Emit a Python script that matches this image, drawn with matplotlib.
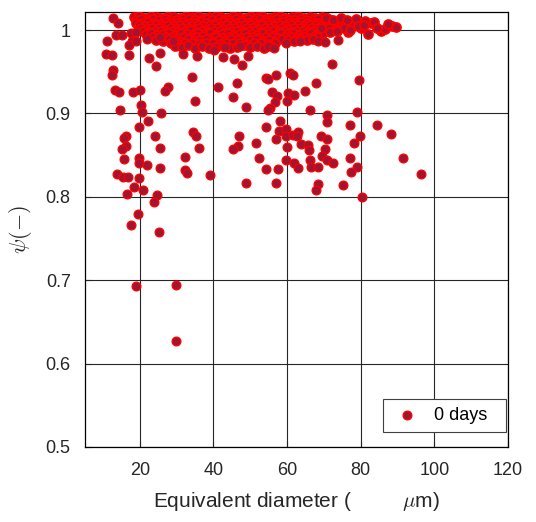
import matplotlib
matplotlib.use("Agg")
import matplotlib.pyplot as plt
import numpy as np

plt.rcParams['font.family'] = ['Liberation Sans', 'DejaVu Sans']
plt.rcParams['mathtext.fontset'] = 'cm'

# dense band near psi = 1, read row by row
band_a_x = [18.3, 19.8, 21.4, 23.0, 24.6, 26.1, 27.8, 29.4, 30.9, 32.6, 34.2, 35.7, 37.4, 38.9, 40.6, 42.1, 43.8,
            45.3, 47.0, 48.5, 50.1, 51.8, 53.3, 55.0, 56.5, 58.2, 59.7, 61.4, 62.9, 64.6, 66.1, 67.7, 69.4, 70.9]
band_a_y = [1.016, 1.017, 1.015, 1.017, 1.016, 1.014, 1.017, 1.016, 1.015, 1.017, 1.016, 1.017, 1.015, 1.016, 1.017,
            1.016, 1.014, 1.017, 1.016, 1.015, 1.017, 1.016, 1.017, 1.015, 1.016, 1.017, 1.015, 1.016, 1.017, 1.015,
            1.016, 1.015, 1.016, 1.014]
band_ab_x = [18.9, 20.4, 22.1, 23.6, 25.3, 26.9, 28.4, 30.2, 31.7, 33.3, 35.0, 36.5, 38.2, 39.7, 41.4, 42.9, 44.6,
             46.1, 47.8, 49.3, 50.9, 52.6, 54.1, 55.8, 57.3, 59.0, 60.5, 62.1, 63.8, 65.3, 67.0, 68.5, 70.2, 72.0]
band_ab_y = [1.0125, 1.013, 1.012, 1.0135, 1.012, 1.013, 1.0125, 1.012, 1.0135, 1.013, 1.012, 1.0125, 1.013, 1.012,
             1.0135, 1.0125, 1.012, 1.013, 1.0125, 1.0135, 1.012, 1.013, 1.0125, 1.012, 1.0135, 1.013, 1.012, 1.0125,
             1.013, 1.012, 1.0125, 1.013, 1.012, 1.0115]
band_b_x = [19.0, 20.6, 22.3, 23.8, 25.4, 27.0, 28.6, 30.1, 31.8, 33.4, 34.9, 36.6, 38.1, 39.8, 41.3, 43.0, 44.5,
            46.2, 47.7, 49.3, 51.0, 52.5, 54.2, 55.7, 57.3, 59.0, 60.5, 62.2, 63.7, 65.3, 67.0, 68.5, 70.2, 71.9, 73.6]
band_b_y = [1.009, 1.008, 1.010, 1.009, 1.007, 1.010, 1.009, 1.008, 1.010, 1.009, 1.008, 1.010, 1.009, 1.007, 1.009,
            1.010, 1.008, 1.009, 1.010, 1.008, 1.009, 1.007, 1.010, 1.009, 1.008, 1.010, 1.009, 1.008, 1.010, 1.009,
            1.008, 1.009, 1.010, 1.008, 1.006]
band_bc_x = [19.8, 21.3, 23.0, 24.5, 26.2, 27.7, 29.4, 30.9, 32.6, 34.1, 35.8, 37.3, 39.0, 40.5, 42.2, 43.7, 45.4,
             46.9, 48.6, 50.1, 51.8, 53.3, 55.0, 56.5, 58.2, 59.7, 61.4, 62.9, 64.6, 66.1, 67.8, 69.3, 71.0, 72.7]
band_bc_y = [1.0055, 1.005, 1.006, 1.0055, 1.0045, 1.006, 1.005, 1.0055, 1.0065, 1.005, 1.0055, 1.0045, 1.006,
             1.0055, 1.005, 1.006, 1.0055, 1.0045, 1.0055, 1.006, 1.005, 1.0055, 1.006, 1.0045, 1.0055, 1.005,
             1.006, 1.0055, 1.005, 1.006, 1.0055, 1.0045, 1.0055, 1.005]
band_c_x = [20.3, 22.0, 23.4, 25.2, 26.6, 28.4, 29.8, 31.6, 33.0, 34.8, 36.2, 38.0, 39.4, 41.2, 42.6, 44.4, 45.8,
            47.6, 49.0, 50.8, 52.2, 54.0, 55.4, 57.2, 58.6, 60.4, 61.8, 63.6, 65.0, 66.8, 68.2, 70.0, 71.4, 73.2]
band_c_y = [1.002, 1.001, 1.003, 1.002, 1.000, 1.003, 1.001, 1.002, 1.003, 1.001, 1.002, 1.000, 1.003, 1.002, 1.001,
            1.003, 1.002, 1.000, 1.002, 1.003, 1.001, 1.002, 1.003, 1.000, 1.002, 1.001, 1.003, 1.002, 1.001, 1.003,
            1.002, 1.000, 1.002, 1.001]
band_cd_x = [21.0, 22.6, 24.1, 25.8, 27.3, 29.0, 30.5, 32.2, 33.7, 35.4, 36.9, 38.6, 40.1, 41.8, 43.3, 45.0, 46.5,
             48.2, 49.7, 51.4, 52.9, 54.6, 56.1, 57.8, 59.3, 61.0, 62.5, 64.2, 65.7, 67.4, 68.9]
band_cd_y = [0.9985, 0.998, 0.999, 0.9985, 0.9975, 0.999, 0.998, 0.9985, 0.9995, 0.998, 0.9985, 0.9975, 0.999,
             0.9985, 0.998, 0.999, 0.9985, 0.9975, 0.9985, 0.999, 0.998, 0.9985, 0.999, 0.9975, 0.9985, 0.998,
             0.999, 0.9985, 0.998, 0.999, 0.9985]
band_d_x = [21.6, 23.1, 24.8, 26.3, 28.0, 29.5, 31.2, 32.7, 34.4, 35.9, 37.6, 39.1, 40.8, 42.3, 44.0, 45.5, 47.2,
            48.7, 50.4, 51.9, 53.6, 55.1, 56.8, 58.3, 60.0, 61.5, 63.2, 64.7, 66.4, 67.9, 69.6]
band_d_y = [0.995, 0.996, 0.994, 0.995, 0.997, 0.994, 0.996, 0.995, 0.994, 0.996, 0.995, 0.997, 0.994, 0.995, 0.996,
            0.994, 0.995, 0.997, 0.995, 0.994, 0.996, 0.995, 0.994, 0.996, 0.995, 0.997, 0.994, 0.995, 0.996, 0.994,
            0.995]
band_de_x = [23.6, 25.3, 27.0, 28.8, 30.4, 32.1, 33.9, 35.5, 37.2, 39.0, 40.6, 42.3, 44.1, 45.7, 47.4, 49.2, 50.8,
             52.5, 54.3, 55.9, 57.6, 59.4, 61.0, 62.7, 64.5, 66.1, 68.2]
band_de_y = [0.9915, 0.991, 0.992, 0.9915, 0.9905, 0.992, 0.991, 0.9915, 0.9925, 0.991, 0.9915, 0.9905, 0.992,
             0.9915, 0.991, 0.992, 0.9915, 0.9905, 0.9915, 0.992, 0.991, 0.9915, 0.992, 0.9905, 0.9915, 0.991, 0.992]
band_e_x = [24.5, 26.2, 27.9, 29.6, 31.3, 33.0, 34.7, 36.4, 38.1, 39.8, 41.5, 43.2, 44.9, 46.6, 48.3, 50.0, 51.7,
            53.4, 55.1, 56.8, 58.5, 60.2, 61.9, 63.6, 65.3, 67.0]
band_e_y = [0.988, 0.987, 0.989, 0.988, 0.986, 0.989, 0.987, 0.988, 0.989, 0.986, 0.988, 0.987, 0.989, 0.988, 0.986,
            0.988, 0.989, 0.987, 0.988, 0.986, 0.989, 0.988, 0.987, 0.989, 0.988, 0.989]
band_ef_x = [28.6, 30.5, 32.3, 34.2, 36.1, 37.9, 39.8, 41.7, 43.5, 45.4, 47.3, 49.1, 51.0, 52.9, 54.7, 56.6]
band_ef_y = [0.984, 0.9835, 0.985, 0.9845, 0.983, 0.9845, 0.984, 0.9835, 0.985, 0.984, 0.9845, 0.983, 0.9845,
             0.984, 0.9835, 0.985]
band_f_x = [29.5, 31.4, 33.2, 35.1, 37.0, 38.8, 40.7, 42.6, 44.4, 46.3, 48.2, 50.0, 51.9, 53.8, 55.6]
band_f_y = [0.981, 0.980, 0.982, 0.979, 0.981, 0.978, 0.980, 0.981, 0.979, 0.980, 0.982, 0.980, 0.981, 0.979, 0.981]
tail_x = [70.7, 72.5, 69.35, 71.6, 75.05, 76.6, 77.9, 80.2, 82.0, 82.9, 85.6, 86.5, 88.6, 89.7, 74.6, 76.2, 78.6,
          79.4, 81.2, 83.7, 84.5, 87.3, 75.4, 77.2, 80.8, 73.6]
tail_y = [1.0144, 1.0124, 1.0024, 0.9976, 1.0096, 0.9976, 1.0084, 1.0024, 0.9952, 1.0084, 0.9992, 1.0016, 1.0044,
          1.0032, 1.0140, 1.0120, 1.0130, 1.0050, 1.0110, 1.0100, 1.0020, 1.0070, 1.0030, 1.0000, 1.0060, 0.9990]

# scattered particles, small diameters
left_x = [12.8, 14.2, 11.0, 13.5, 15.2, 17.5, 19.0, 17.9, 17.0, 19.0, 10.8, 12.45, 17.0, 22.4, 25.5, 24.5, 12.8,
          12.45, 31.8, 35.6, 34.2, 22.0, 25.5, 29.1, 13.2, 14.35, 18.2, 20.05, 27.8, 26.9, 35.05, 20.4, 14.6, 20.7,
          25.9, 22.1, 19.8, 16.2, 15.7, 24.1, 34.5, 35.2, 16.2, 15.16, 25.5, 36.05, 15.7, 19.85, 19.85, 21.9, 32.3,
          25.5, 32.2, 32.7, 13.9, 15.35, 16.8, 19.85, 18.4, 20.9, 16.6, 24.6, 23.85, 19.4, 17.7, 25.3, 18.9, 29.8,
          29.9]
left_y = [1.015, 1.008, 0.9865, 0.994, 0.994, 0.996, 0.998, 0.9865, 0.982, 0.987, 0.971, 0.970, 0.970, 0.966,
          0.972, 0.9565, 0.952, 0.946, 0.971, 0.9685, 0.944, 0.9896, 0.992, 0.9865, 0.928, 0.9257, 0.9257, 0.9277,
          0.932, 0.9272, 0.9152, 0.9104, 0.9037, 0.902, 0.900, 0.8905, 0.8833, 0.8729, 0.8705, 0.8729, 0.8773,
          0.8729, 0.8613, 0.857, 0.8589, 0.8589, 0.8457, 0.8469, 0.8402, 0.8378, 0.8481, 0.8345, 0.8318, 0.8282,
          0.8273, 0.8234, 0.8241, 0.8222, 0.8118, 0.8082, 0.8034, 0.8022, 0.7938, 0.7794, 0.7665, 0.7581, 0.6934,
          0.6939, 0.6271]

# scattered particles, medium diameters
mid_x = [39.2, 45.6, 47.8, 41.2, 46.4, 45.2, 48.8, 54.3, 54.9, 57.1, 60.8, 61.6, 67.9, 55.9, 57.2, 56.6, 60.3,
         62.0, 60.1, 64.9, 55.4, 54.9, 66.2, 70.8, 70.9, 58.0, 54.3, 57.7, 59.7, 57.1, 59.7, 61.6, 63.1, 62.65,
         47.0, 46.6, 45.4, 51.5, 63.7, 65.7, 66.0, 69.1, 70.8, 70.2, 60.1, 52.3, 59.6, 61.9, 63.0, 66.2, 69.4, 70.9,
         66.45, 68.35, 54.2, 57.5, 48.9, 57.0, 68.5, 67.8, 42.65, 49.4, 40.2, 43.1, 47.2, 54.9, 56.5, 59.85, 63.5,
         68.4]
mid_y = [0.8265, 0.9656, 0.9577, 0.9313, 0.9361, 0.9197, 0.9073, 0.9421, 0.9412, 0.946, 0.9481, 0.9464, 0.9368,
         0.9253, 0.9212, 0.9137, 0.9248, 0.9217, 0.9145, 0.9265, 0.9061, 0.9037, 0.9044, 0.8977, 0.8897, 0.8905,
         0.8841, 0.8789, 0.8813, 0.8697, 0.8729, 0.8741, 0.8773, 0.8725, 0.8729, 0.8609, 0.857, 0.8645, 0.8637,
         0.8621, 0.8558, 0.8733, 0.8693, 0.857, 0.8594, 0.8469, 0.8441, 0.8409, 0.8342, 0.8441, 0.8493, 0.8441,
         0.8354, 0.8354, 0.833, 0.833, 0.8162, 0.8162, 0.8157, 0.8082, 0.968, 0.9692, 0.9764, 0.9793, 0.9805,
         0.9805, 0.9784, 0.9844, 0.9865, 0.9865]

# scattered particles, large diameters
right_x = [72.2, 79.5, 78.9, 77.0, 84.3, 88.2, 79.7, 78.1, 72.5, 77.1, 79.1, 77.4, 91.6, 96.4, 75.1, 80.3, 70.3, 73.9]
right_y = [0.9592, 0.94, 0.902, 0.8861, 0.8861, 0.8753, 0.8733, 0.8649, 0.8402, 0.8469, 0.8361, 0.8294, 0.8465,
           0.8273, 0.8138, 0.8001, 0.9856, 0.9884]

x_ticks = [20, 40, 60, 80, 100, 120]
y_ticks = [0.5, 0.6, 0.7, 0.8, 0.9, 1.0]
y_labels = ['0.5', '0.6', '0.7', '0.8', '0.9', '1']

band_X = np.concatenate([band_a_x, band_ab_x, band_b_x, band_bc_x, band_c_x, band_cd_x, band_d_x, band_de_x,
                         band_e_x, band_ef_x, band_f_x, tail_x])
band_Y = np.concatenate([band_a_y, band_ab_y, band_b_y, band_bc_y, band_c_y, band_cd_y, band_d_y, band_de_y,
                         band_e_y, band_ef_y, band_f_y, tail_y])
X = np.concatenate([left_x, mid_x, right_x])
Y = np.concatenate([left_y, mid_y, right_y])

fig = plt.figure(figsize=(5.36, 5.22), dpi=100)
ax = fig.add_axes([0.1591, 0.1437, 0.7886, 0.8333])

face = '#A2142F'
edge = '#FF0000'
ax.scatter(band_X, band_Y, s=40, c=face, edgecolors=edge, linewidths=1.4, zorder=3)
ax.scatter(X, Y, s=40, c=face, edgecolors=edge, linewidths=0.9, label='0 days  ', zorder=3)

ax.set_xlim(5.2, 120)
ax.set_ylim(0.5, 1.0216)
ax.set_xticks(x_ticks)
ax.set_xticklabels([str(t) for t in x_ticks])
ax.set_yticks(y_ticks)
ax.set_yticklabels(y_labels)
ax.tick_params(direction='in', length=4, width=0.8, labelsize=13, pad=10.5, colors='#262626')
ax.grid(True, color='#262626', linewidth=0.8)
ax.set_axisbelow(True)
for sp in ax.spines.values():
    sp.set_color('black')
    sp.set_linewidth(0.9)

ax.set_xlabel('Equivalent diameter (         $\\mu$m)', fontsize=15, color='#262626', labelpad=8)
ax.set_ylabel('$\\psi(-)$', fontsize=16, color='#262626', labelpad=8)

leg = ax.legend(loc='lower right', bbox_to_anchor=(0.995, 0.035), borderaxespad=0, fontsize=13,
                fancybox=False, framealpha=1, edgecolor='#404040', borderpad=0.45, handlelength=1.8,
                handletextpad=0.6)
leg.get_frame().set_linewidth(0.8)

fig.savefig('out.png', dpi=100)
